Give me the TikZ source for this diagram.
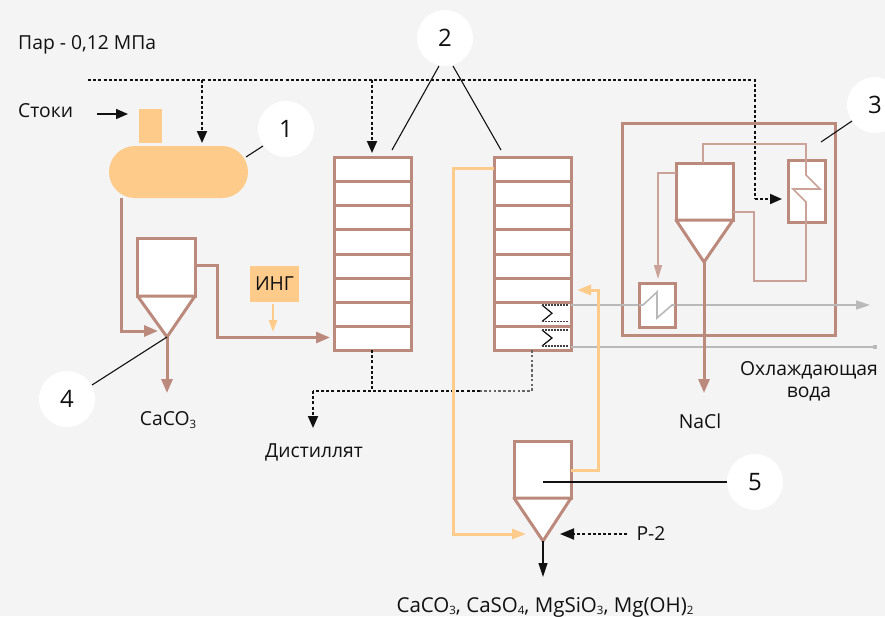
\documentclass[tikz,border=0pt]{standalone}
\usepackage{fontspec}
\setmainfont{Open Sans}
\usetikzlibrary{arrows.meta,calc}
\definecolor{bg}{HTML}{F4F4F4}
\definecolor{brn}{HTML}{BB8A7C}
\definecolor{brl}{HTML}{CBA297}
\definecolor{org}{HTML}{FFCB8B}
\definecolor{gry}{HTML}{B9B9B9}
\definecolor{ink}{HTML}{111111}
\newcommand{\subn}[1]{\raisebox{-2.5pt}{\fontsize{11.5}{12}\selectfont #1}}
\tikzset{
 unit/.style={draw=brn,line width=3pt,fill=white,inner sep=0pt,outer sep=0pt},
 cone/.style={draw=brn,line width=3pt,fill=white,line join=round},
 circ/.style={circle,fill=white,minimum size=56pt,inner sep=0pt,font=\fontsize{24}{28}\selectfont,text=ink},
 lbl/.style={font=\fontsize{19.3}{23}\selectfont,text=ink,inner sep=0pt},
 bline/.style={draw=brn,line width=3pt,line join=miter},
 tline/.style={draw=brl,line width=1.6pt},
 oline/.style={draw=org,line width=3pt},
 gline/.style={draw=gry,line width=1.6pt},
 kline/.style={draw=ink,line width=1.1pt},
 dot/.style={draw=ink,line width=1.9pt,dash pattern=on 3pt off 2.2pt},
 dotg/.style={draw=ink!65,line width=1.5pt,dash pattern=on 2.6pt off 2.2pt},
 tb/.style={-{Triangle[length=12pt,width=10pt]}},
 ts/.style={-{Triangle[length=14pt,width=11pt]}},
}
\begin{document}
\begin{tikzpicture}[x=1pt,y=-1pt]
\useasboundingbox (0,0) rectangle (885,616);
\fill[bg] (0,0) rectangle (885,616);

% tank
\node[fill=org,minimum width=23pt,minimum height=34pt,inner sep=0pt,outer sep=0pt] (tab) at (150.5,126) {};
\node[fill=org,rounded corners=26pt,minimum width=139pt,minimum height=52pt,inner sep=0pt,outer sep=0pt] (tank) at (178.5,172) {};

% labels
\node[lbl,anchor=west] (par) at (18,45) {Пар - 0,12 МПа};
\node[lbl,anchor=west] (stoki) at (18,111) {Стоки};
\node[lbl] (caco) at (168,420) {CaCO\subn{3}};
\node[lbl] (dist) at (314,452) {Дистиллят};
\node[lbl] (nacl) at (700,421) {NaCl};
\node[lbl,align=center,font=\fontsize{19.3}{22}\selectfont] (cool) at (809,381) {Охлаждающая\\вода};
\node[lbl] (r2) at (651,534) {Р-2};
\node[lbl,font=\fontsize{20.5}{23}\selectfont] (prod) at (545,607) {CaCO\subn{3}, CaSO\subn{4}, MgSiO\subn{3}, Mg(OH)\subn{2}};

% waypoints
\coordinate (s0) at (88,80);
\coordinate (s1) at (202,80);
\coordinate (s1e) at (202,143);
\coordinate (s2) at (372,80);
\coordinate (s2e) at (372,153);
\coordinate (s3) at (755,80);
\coordinate (s4) at (755,199);
\coordinate (s4e) at (782,199);
\draw[dot] (s0) -- (s3) -- (s4);
\draw[dot,tb] (s4) -- (s4e);
\draw[dot,tb] (s1) -- (s1e);
\draw[dot,tb] (s2) -- (s2e);
\coordinate (st0) at (97,114);
\coordinate (st1) at (128,114);
\draw[kline,line width=1.4pt,tb] (st0) -- (st1);

% box 3
\node[draw=brn,line width=3pt,minimum width=213pt,minimum height=212pt,inner sep=0pt,outer sep=0pt] (b3) at (728.5,229) {};

% cyclone 4
\node[unit,minimum width=57.5pt,minimum height=58pt] (c4) at (166.25,267) {};
\coordinate (c4a) at (167,337);
\coordinate (t4a) at (121,198);
\coordinate (t4b) at (121,331);
\coordinate (t4c) at (158,331);
\draw[bline,ts] (t4a) -- (t4b) -- (t4c);
\draw[cone] (c4.south west) -- (c4a) -- (c4.south east) -- cycle;
\coordinate (c4o) at (167,393);
\draw[bline,ts] (c4a) -- (c4o);
\coordinate (p1) at (195,265);
\coordinate (p2) at (217,265);
\coordinate (p3) at (217,337.5);
\coordinate (p4) at (330,337.5);
\draw[bline,ts] (p1) -- (p2) -- (p3) -- (p4);

% ING
\node[fill=org,minimum width=49pt,minimum height=36pt,inner sep=0pt,font=\fontsize{19.3}{23}\selectfont,text=ink] (ing) at (274.5,284) {ИНГ};
\coordinate (i1) at (273,304);
\coordinate (i2) at (273,332);
\draw[draw=org,line width=2.2pt,-{Triangle[length=12pt,width=8pt]}] (i1) -- (i2);

% columns
\foreach \n/\cx in {k1/372.5,k2/532.5}{
 \node[unit,minimum width=77pt,minimum height=193pt] (\n) at (\cx,253.5) {};
 \foreach \yy in {181,205,229,254,278,302,326}
   \draw[draw=brn,line width=3pt] (\cx-38.5,\yy) -- (\cx+38.5,\yy);
}

% distillate
\coordinate (d0) at (372,350);
\coordinate (d1) at (372,391);
\coordinate (d2) at (313,391);
\coordinate (d3) at (313,428);
\coordinate (d4) at (532,350);
\coordinate (d5) at (532,391);
\coordinate (d6) at (480,391);
\draw[dotg] (d4) -- (d5) -- (d6);
\draw[dot] (d0) -- (d1);
\draw[dot] (d6) -- (d2);
\draw[dot,tb] (d2) -- (d3);

% grey lines & coils
\coordinate (g0) at (571,305);
\coordinate (g1) at (870,305);
\coordinate (h0) at (571,347);
\coordinate (h1) at (875,347);
\draw[gline,-{Triangle[length=14pt,width=9pt]}] (g0) -- (g1);
\draw[gline] (h0) -- (h1);
\node[fill=gry,minimum size=4.5pt,inner sep=0pt] (hq) at (h1) {};
\foreach \a/\b in {305/321.5,330/346}{
 \draw[draw=ink,line width=1.2pt] (542,\a) -- (552,\a/2+\b/2) -- (542,\b);
 \draw[draw=ink!80,line width=1.4pt,dash pattern=on 2pt off 1pt] (542,\a) -- (568,\a) (542,\b) -- (568,\b);
}

% cyclone 3
\node[unit,minimum width=57pt,minimum height=57pt] (c3) at (704.5,191.5) {};
\coordinate (c3a) at (704,262);
\draw[cone] (c3.south west) -- (c3a) -- (c3.south east) -- cycle;
\coordinate (c3o) at (704,393);
\draw[bline,ts] (c3a) -- (c3o);

% exchangers
\node[unit,minimum width=37pt,minimum height=62pt] (e1) at (806.5,191) {};
\node[unit,minimum width=36pt,minimum height=44pt] (e2) at (657,305) {};
\coordinate (q0) at (703,163);
\coordinate (q1) at (703,144);
\coordinate (q2) at (806,144);
\coordinate (q3) at (806,175);
\coordinate (q4) at (820,189);
\coordinate (q5) at (793,189);
\coordinate (q6) at (806,202);
\coordinate (q7) at (806,281);
\coordinate (q8) at (754,281);
\coordinate (q9) at (754,212);
\coordinate (q10) at (733,212);
\draw[tline] (q0) -- (q1) -- (q2) -- (q3) -- (q4) -- (q5) -- (q6) -- (q7) -- (q8) -- (q9) -- (q10);
\coordinate (r0) at (676,173);
\coordinate (r1) at (658,173);
\coordinate (r2p) at (658,279);
\draw[tline,-{Triangle[length=14pt,width=8pt]}] (r0) -- (r1) -- (r2p);
\coordinate (z0) at (639,305);
\coordinate (z1) at (643,305);
\coordinate (z2) at (657,292);
\coordinate (z3) at (657,318);
\coordinate (z4) at (672,305);
\coordinate (z5) at (675,305);
\draw[gline] (z0) -- (z1) -- (z2) -- (z3) -- (z4) -- (z5);

% cyclone 5
\node[unit,minimum width=57pt,minimum height=57pt] (c5) at (542.5,469.5) {};
\coordinate (c5a) at (543,541);
\coordinate (o0) at (494,168);
\coordinate (o1) at (453,168);
\coordinate (o2) at (453,534);
\coordinate (o3) at (526,534);
\draw[oline,-{Triangle[length=14pt,width=10pt]}] (o0) -- (o1) -- (o2) -- (o3);
\coordinate (u0) at (571,470);
\coordinate (u1) at (598,470);
\coordinate (u2) at (598,290);
\coordinate (u3) at (577,290);
\draw[oline,-{Triangle[length=14pt,width=10pt]}] (u0) -- (u1) -- (u2) -- (u3);
\draw[cone] (c5.south west) -- (c5a) -- (c5.south east) -- cycle;
\coordinate (c5o) at (543,577);
\draw[kline,-{Triangle[length=14pt,width=9pt]}] (c5a) -- (c5o);
\coordinate (r20) at (627,534);
\coordinate (r21) at (560,534);
\draw[dot,ts] (r20) -- (r21);

% callouts
\node[circ] (n1) at (286,129) {1};
\node[circ] (n2) at (445,38) {2};
\node[circ] (n3) at (875,105) {3};
\node[circ] (n4) at (67,399) {4};
\node[circ] (n5) at (755,482) {5};
\coordinate (l1a) at (263,146);
\coordinate (l1b) at (246,157);
\draw[kline] (l1a) -- (l1b);
\coordinate (l2a) at (439,66);
\coordinate (l2b) at (392,150);
\coordinate (l2c) at (453,66);
\coordinate (l2d) at (501,150);
\draw[kline] (l2a) -- (l2b);
\draw[kline] (l2c) -- (l2d);
\coordinate (l3a) at (852,121);
\coordinate (l3b) at (821,142);
\draw[kline] (l3a) -- (l3b);
\coordinate (l4a) at (92,385);
\draw[kline] (l4a) -- (c4a);
\coordinate (l5a) at (543,482);
\coordinate (l5b) at (727,482);
\draw[kline] (l5a) -- (l5b);
\end{tikzpicture}
\end{document}
